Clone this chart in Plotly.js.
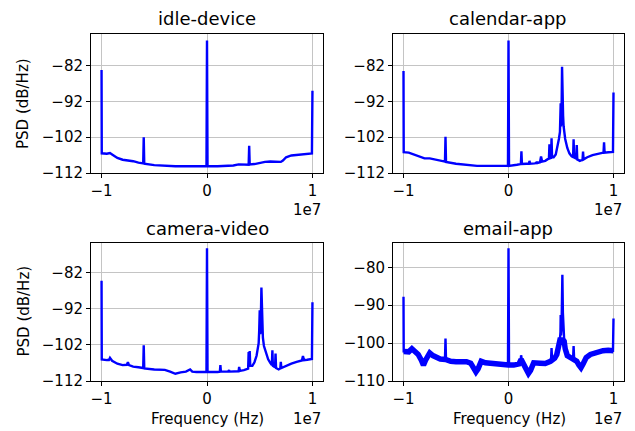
<!DOCTYPE html>
<html>
<head>
<meta charset="utf-8">
<script src="https://cdn.plot.ly/plotly-3.0.1.min.js"></script>
<style>html,body{margin:0;padding:0;background:#fff;}#chart{width:635px;height:431px;}</style>
</head>
<body>
<div id="chart"></div>
<script>
// Frequencies in MHz, PSD in dB/Hz
const panelTitles = ["idle-device", "calendar-app", "camera-video", "email-app"];
const xTickVals = [-1e7, 0, 1e7];
const xTickText = ["\u22121", "0", "1"];
const yTicksA = [-112, -102, -92, -82];
const yTicksB = [-110, -100, -90, -80];

const idleFreq = [-10,-9.98,-9.5,-9.2,-9,-8.5,-8,-7.5,-7,-6.5,-6.05,-6,-5.95,-5,-4,-3,-2,-1,-0.05,0,0.05,1,2,2.5,3,3.5,3.95,4,4.05,4.5,5,5.5,6,6.5,7,7.2,7.5,8,8.5,9,9.5,9.95,10];
const idlePsd = [-83.2,-106.5,-106.6,-106.4,-106.8,-107.8,-108.3,-108.4,-108.7,-109.1,-109.3,-102,-109.4,-109.8,-110,-110.1,-110.1,-110.2,-110.1,-75,-110.1,-110.1,-110.1,-109.9,-109.6,-109.6,-109.7,-104.4,-109.6,-109.5,-109.1,-108.9,-108.8,-108.8,-108.9,-108.5,-107.6,-107.1,-106.9,-106.8,-106.7,-106.5,-89];

const calFreq = [-10,-9.98,-9.5,-9,-8.5,-8,-7.5,-7,-6.5,-6.05,-6,-5.95,-5,-4,-3,-2,-1,-0.05,0,0.05,0.8,1.18,1.23,1.28,1.7,1.95,2,2.05,2.5,2.65,2.7,2.75,3,3.1,3.2,3.5,3.7,3.85,3.9,3.95,4.05,4.1,4.15,4.3,4.5,4.6,4.7,4.8,4.9,4.95,4.97,5,5.05,5.1,5.15,5.2,5.25,5.3,5.4,5.6,5.8,6,6.15,6.2,6.25,6.45,6.5,6.55,6.8,7.05,7.1,7.15,7.5,8,8.5,9,9.05,9.1,9.15,9.5,9.95,10];
const calPsd = [-83.5,-106.2,-106.3,-106.8,-107.5,-107.9,-107.9,-108.2,-108.5,-108.8,-101.9,-108.9,-109.4,-109.8,-110,-110,-110,-110,-75,-110,-109.7,-109.5,-105.9,-109.5,-109.4,-109.4,-108.6,-109.4,-109.3,-109.2,-108.8,-109.2,-109,-107.4,-108.8,-108.6,-108.2,-108,-104,-107.9,-107.8,-102.3,-107.6,-107.6,-106.8,-105.5,-104,-102.5,-100.5,-97,-92.5,-99,-96,-82.3,-93,-96,-99,-100.5,-102.5,-105,-106.5,-107.3,-107.6,-102.6,-107.7,-108,-104.2,-108.2,-108.6,-108.3,-106,-108.2,-107.6,-107,-106.6,-106.4,-106.3,-103.4,-106.3,-106.2,-106.1,-89.5];

const camFreq = [-10,-9.98,-9.5,-9.3,-9.2,-9,-8.5,-8,-7.6,-7.5,-7.4,-7,-6.5,-6.05,-6,-5.95,-5,-4,-3.5,-3,-2.5,-2,-1.6,-1.4,-1,-0.05,0,0.05,1,1.22,1.27,1.32,2,2.09,2.15,3,3.05,3.12,3.5,3.9,3.95,4,4.05,4.1,4.3,4.5,4.7,4.8,4.9,4.95,5,5.05,5.1,5.16,5.2,5.25,5.3,5.4,5.6,5.8,6,6.15,6.2,6.25,6.45,6.5,6.55,6.8,6.95,7,7.05,7.5,8,8.5,9,9.1,9.2,9.5,9.95,10];
const camPsd = [-84.2,-106,-106.2,-106.2,-105.6,-106.4,-107.2,-107.6,-107.5,-106.8,-107.6,-108,-108.2,-108.4,-102.1,-108.5,-108.8,-108.9,-109.4,-110,-109.6,-109.4,-108.8,-109.4,-109.5,-109.5,-75.2,-109.5,-109.5,-109.4,-107.6,-109.4,-109.4,-109,-109.4,-109.3,-108.1,-109.2,-109,-108.6,-104,-108,-103.7,-107.8,-107.8,-106.8,-105,-103.3,-101.5,-98,-92.4,-99,-96,-86.1,-93,-97,-100,-102.3,-104.5,-106,-107,-107.6,-103.5,-107.8,-108.2,-104.4,-108.4,-108.8,-108.5,-106.7,-108.4,-107.8,-107.2,-106.7,-106.3,-105.1,-106.2,-106.1,-105.9,-90.2];

const emailFreq = [-10,-9.98,-9.5,-9.2,-9,-8.6,-8.3,-8.1,-7.9,-7.7,-7.5,-7.2,-6.8,-6.5,-6.05,-6,-5.95,-5.5,-5,-4.5,-4,-3.6,-3.3,-3.1,-2.9,-2.6,-2.2,-1.5,-1,-0.5,-0.05,0,0.05,0.5,1,1.15,1.2,1.3,1.6,1.9,2.1,2.4,3,3.5,3.9,4.05,4.1,4.15,4.4,4.6,4.8,4.9,4.95,4.97,5,5.05,5.13,5.18,5.22,5.3,5.4,5.6,6,6.15,6.2,6.25,6.5,6.7,6.9,7.1,7.4,7.8,8,8.5,9,9.5,9.95,10];
const emailPsd = [-87.8,-102.2,-102.3,-101.5,-102,-103,-104.5,-105.8,-104.5,-103.2,-102.6,-103.3,-104,-104.2,-104.3,-98.8,-104.4,-104.8,-104.9,-104.9,-104.9,-105.3,-106.8,-107.6,-106.8,-104.8,-105.2,-105.5,-105.6,-105.8,-105.8,-75,-105.8,-105.8,-105.5,-105,-103.2,-105,-106.2,-108,-107.2,-105.2,-105.3,-105.4,-105.2,-104.5,-101.3,-104.5,-104,-103,-100.5,-99,-97,-92.6,-98,-96,-82,-92,-96,-99,-101.5,-103.3,-104,-104.2,-100.8,-104.2,-104.8,-105.8,-106.5,-105.5,-103.8,-103,-102.8,-102.4,-102,-101.9,-102,-93.5];
// Noisy floor of email-app (drawn as a thick band)
const emailFloorFreq = [-9.98,-9.5,-9.2,-9,-8.6,-8.3,-8.1,-7.9,-7.7,-7.5,-7.2,-6.8,-6.5,-6,-5.5,-5,-4.5,-4,-3.6,-3.3,-3.1,-2.9,-2.6,-2.2,-1.5,-1,-0.5,0,0.5,1,1.2,1.6,1.9,2.1,2.4,3,3.5,4,4.4,4.6,4.8,4.9,5.2,5.3,5.4,5.6,6,6.5,6.7,6.9,7.1,7.4,7.8,8,8.5,9,9.5,9.98];
const emailFloorPsd = [-102.2,-102.3,-101.5,-102,-103,-104.5,-105.8,-104.5,-103.2,-102.6,-103.3,-104,-104.2,-104.3,-104.8,-104.9,-104.9,-104.9,-105.3,-106.8,-107.6,-106.8,-104.8,-105.2,-105.5,-105.6,-105.8,-105.8,-105.8,-105.5,-104.3,-106.2,-108,-107.2,-105.2,-105.3,-105.4,-104.8,-104,-103,-100.5,-99.2,-99.2,-99.5,-101.5,-103.3,-104,-104.8,-105.8,-106.5,-105.5,-103.8,-103,-102.8,-102.4,-102,-101.9,-102];

const toHz = a => a.map(v => v * 1e6);
const BLUE = "#0000ff";
const FONT = "DejaVu Sans";

function tr(f, p, ax, w) {
  return {x: toHz(f), y: p, xaxis: "x" + ax, yaxis: "y" + ax, type: "scatter", mode: "lines",
          line: {color: BLUE, width: w, shape: "linear"}, hoverinfo: "skip", showlegend: false};
}

const data = [
  tr(idleFreq, idlePsd, "", 2.4),
  tr(calFreq, calPsd, "2", 2.4),
  tr(camFreq, camPsd, "3", 2.4),
  tr(emailFloorFreq, emailFloorPsd, "4", 5.5),
  tr(emailFreq, emailPsd, "4", 2.4)
];

function xa(dom, anchor) {
  return {domain: dom, anchor: anchor, range: [-1.1e7, 1.1e7], tickmode: "array", tickvals: xTickVals, ticktext: xTickText,
    showgrid: true, gridcolor: "#c4c4c4", gridwidth: 1, zeroline: false,
    showline: true, linecolor: "#000", linewidth: 1, mirror: true,
    ticks: "outside", ticklen: 4, tickwidth: 1, tickcolor: "#000",
    tickfont: {family: FONT, size: 15, color: "#000"}, fixedrange: true};
}
function ya(dom, anchor, rng, tv) {
  return {domain: dom, anchor: anchor, range: rng, tickmode: "array", tickvals: tv,
    showgrid: true, gridcolor: "#c4c4c4", gridwidth: 1, zeroline: false,
    showline: true, linecolor: "#000", linewidth: 1, mirror: true,
    ticks: "outside", ticklen: 4, tickwidth: 1, tickcolor: "#000",
    tickfont: {family: FONT, size: 15, color: "#000"}, fixedrange: true};
}

const W = 635, H = 431;
const colL = [91 / W, 323 / W], colR = [393 / W, 624 / W];
const rowT = [1 - 173 / H, 1 - 34 / H], rowB = [1 - 381 / H, 1 - 243 / H];

function ann(text, xpx, ypx, opts) {
  return Object.assign({text: text, xref: "paper", yref: "paper", x: xpx / W, y: 1 - ypx / H,
    showarrow: false, xanchor: "center", yanchor: "middle",
    font: {family: FONT, size: 15, color: "#000"}}, opts || {});
}

const annotations = [
  ann(panelTitles[0], 207, 19, {font: {family: FONT, size: 18, color: "#000"}}),
  ann(panelTitles[1], 508.5, 19, {font: {family: FONT, size: 18, color: "#000"}}),
  ann(panelTitles[2], 207, 228, {font: {family: FONT, size: 18, color: "#000"}}),
  ann(panelTitles[3], 508.5, 228, {font: {family: FONT, size: 18, color: "#000"}}),
  ann("1e7", 323, 210, {xanchor: "right"}),
  ann("1e7", 624, 210, {xanchor: "right"}),
  ann("1e7", 323, 419, {xanchor: "right"}),
  ann("1e7", 624, 419, {xanchor: "right"}),
  ann("Frequency (Hz)", 207.5, 419),
  ann("Frequency (Hz)", 509, 419),
  ann("PSD (dB/Hz)", 23, 104, {textangle: -90}),
  ann("PSD (dB/Hz)", 23, 311.5, {textangle: -90})
];

const layout = {
  width: W, height: H, margin: {l: 0, r: 0, t: 0, b: 0},
  paper_bgcolor: "#fff", plot_bgcolor: "#fff",
  font: {family: FONT, size: 15, color: "#000"},
  showlegend: false,
  xaxis: xa(colL, "y"), yaxis: ya(rowT, "x", [-112, -73.15], yTicksA),
  xaxis2: xa(colR, "y2"), yaxis2: ya(rowT, "x2", [-112, -73.15], yTicksA),
  xaxis3: xa(colL, "y3"), yaxis3: ya(rowB, "x3", [-112, -73.75], yTicksA),
  xaxis4: xa(colR, "y4"), yaxis4: ya(rowB, "x4", [-110, -73.6], yTicksB),
  annotations: annotations
};

Plotly.newPlot("chart", data, layout, {staticPlot: true, displayModeBar: false});
</script>
</body>
</html>
